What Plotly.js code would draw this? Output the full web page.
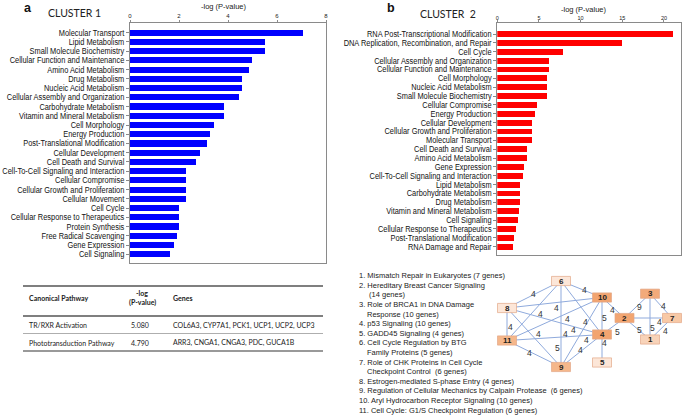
<!DOCTYPE html>
<html><head><meta charset="utf-8">
<script src="https://cdn.plot.ly/plotly-3.0.1.min.js"></script>
<style>html,body{margin:0;padding:0;background:#fff}#chart{width:685px;height:417px}</style>
</head><body><div id="chart"></div>
<script>
// ---------- DATA ----------
const c1Names = ["Molecular Transport","Lipid Metabolism","Small Molecule Biochemistry","Cellular Function and Maintenance","Amino Acid Metabolism","Drug Metabolism","Nucleic Acid Metabolism","Cellular Assembly and Organization","Carbohydrate Metabolism","Vitamin and Mineral Metabolism","Cell Morphology","Energy Production","Post-Translational Modification","Cellular Development","Cell Death and Survival","Cell-To-Cell Signaling and Interaction","Cellular Compromise","Cellular Growth and Proliferation","Cellular Movement","Cell Cycle","Cellular Response to Therapeutics","Protein Synthesis","Free Radical Scavenging","Gene Expression","Cell Signaling"];
const c1Vals = [7.05,5.5,5.5,4.96,4.85,4.57,4.57,4.43,3.82,3.82,3.41,3.26,3.15,2.85,2.70,2.30,2.30,2.30,2.30,2.0,2.0,2.0,1.93,1.78,1.65];

const c2Names = ["RNA Post-Transcriptional Modification","DNA Replication, Recombination, and Repair","Cell Cycle","Cellular Assembly and Organization","Cellular Function and Maintenance","Cell Morphology","Nucleic Acid Metabolism","Small Molecule Biochemistry","Cellular Compromise","Energy Production","Cellular Development","Cellular Growth and Proliferation","Molecular Transport","Cell Death and Survival","Amino Acid Metabolism","Gene Expression","Cell-To-Cell Signaling and Interaction","Lipid Metabolism","Carbohydrate Metabolism","Drug Metabolism","Vitamin and Mineral Metabolism","Cell Signaling","Cellular Response to Therapeutics","Post-Translational Modification","RNA Damage and Repair"];
const c2Vals = [21.04,14.96,7.92,6.24,6.24,6.0,5.92,5.92,4.72,4.56,4.12,4.12,4.12,3.6,3.52,3.2,3.12,2.72,2.72,2.72,2.6,2.52,2.2,2.0,1.92];

const c1Ticks = [0,2,4,6,8];
const c2Ticks = [0,5,10,15,20];

const tablePathways = ["TR/RXR Activation","Phototransduction Pathway"];
const tablePvals = ["5.080","4.790"];
const tableGenes = ["COL6A3, CYP7A1, PCK1, UCP1, UCP2, UCP3","ARR3, CNGA1, CNGA3, PDC, GUCA1B"];

const netPathways = ["Mismatch Repair in Eukaryotes","Hereditary Breast Cancer Signaling<br>","Role of BRCA1 in DNA Damage<br>Response","p53 Signaling","GADD45 Signaling","Cell Cycle Regulation by BTG<br>Family Proteins","Role of CHK Proteins in Cell Cycle<br>Checkpoint Control ","Estrogen-mediated S-phase Entry","Regulation of Cellular Mechanics by Calpain Protease ","Aryl Hydrocarbon Receptor Signaling","Cell Cycle: G1/S Checkpoint Regulation"];
const netGenes = [7,14,10,10,4,5,6,4,6,10,6];

const edgeFrom   = [6,6,8,8,11,10,8,11,6,6,8,10,6,4,11,4,10,4,2,3,2,2,3,1];
const edgeTo     = [8,10,10,4,10,9,11,4,11,4,9,4,9,9,9,5,2,2,3,1,7,1,7,7];
const edgeWeight = [4,4,4,4,4,4,4,4,4,4,4,5,5,4,4,4,4,5,9,5,4,5,4,4];

// ---------- LAYOUT HELPERS (positions / styles) ----------
const W = 685, H = 417;
const PX = x => x / W, PY = y => 1 - y / H;
const arial = "Liberation Sans, Arial, sans-serif";
const calib = "Lato, Open Sans, sans-serif";
const axisGray = "#8a8a8a";

const nodePos = {1:[650,339.5],2:[624.5,318],3:[650,293.7],4:[602,334.5],5:[602,362.5],6:[561,281],7:[672,318],8:[507,308],9:[561,367],10:[602,297.5],11:[507,340.5]};
const nodeFill = {1:"#F8D3B9",2:"#F2A571",3:"#F2AA7A",4:"#F2A470",5:"#FCE6D8",6:"#FCE6D8",7:"#F8C9A6",8:"#FCE6D8",9:"#F5B78B",10:"#F2A470",11:"#F5B78B"};
const edgeLabelPos = [[533.3,294.3],[584.3,290],[556,307.7],[540.7,314.3],[567.3,319],[585,322.3],[510,326.7],[538.3,334.3],[565,334],[573.3,330],[586,340.3],[604.5,317.7],[557.5,348.3],[580.7,350],[529.3,353.3],[604.5,343.3],[612.3,310],[617.3,332.3],[639.3,306.7],[652.3,327.7],[659,321.7],[639,330],[663.3,306],[665,330.7]];

// ---------- TRACES ----------
const traces = [];
traces.push({type:"bar", orientation:"h", x:c1Vals, y:c1Names, xaxis:"x", yaxis:"y",
  marker:{color:"#0000FF"}, width:0.66, hoverinfo:"x+y"});
traces.push({type:"bar", orientation:"h", x:c2Vals, y:c2Names, xaxis:"x2", yaxis:"y2",
  marker:{color:"#FF0000"}, width:0.66, hoverinfo:"x+y"});

const ex = [], ey = [];
for (let i = 0; i < edgeFrom.length; i++) {
  const a = nodePos[edgeFrom[i]], b = nodePos[edgeTo[i]];
  ex.push(a[0], b[0], null); ey.push(a[1], b[1], null);
}
traces.push({type:"scatter", mode:"lines", x:ex, y:ey, xaxis:"x3", yaxis:"y3",
  line:{color:"#8FAADC", width:1}, hoverinfo:"skip", showlegend:false});

// ---------- SHAPES & ANNOTATIONS ----------
const shapes = [], annotations = [];

Object.keys(nodePos).forEach(k => {
  const p = nodePos[k];
  shapes.push({type:"rect", xref:"x3", yref:"y3", x0:p[0]-9.5, x1:p[0]+9.5, y0:p[1]-4.6, y1:p[1]+4.6,
    fillcolor:nodeFill[k], line:{color:"#E2A888", width:0.7}, layer:"above"});
  annotations.push({xref:"x3", yref:"y3", x:p[0], y:p[1], text:"<b>"+k+"</b>", showarrow:false,
    font:{family:arial, size:8, color:"#222"}, xanchor:"center", yanchor:"middle"});
});
edgeWeight.forEach((w, i) => {
  const p = edgeLabelPos[i];
  annotations.push({xref:"x3", yref:"y3", x:p[0], y:p[1], text:String(w), showarrow:false,
    font:{family:arial, size:8.5, color:"#333"}, xanchor:"center", yanchor:"middle"});
});

let line = 0;
netPathways.forEach((name, i) => {
  const full = (i+1) + ". " + name + " (" + netGenes[i] + " genes)";
  const parts = full.split("<br>");
  parts.forEach((t, j) => {
    annotations.push({xref:"paper", yref:"paper", x:PX(j === 0 ? 356.5 : 365), y:PY(275.7 + line*9.6),
      text:t, showarrow:false, xanchor:"left", yanchor:"middle",
      font:{family:arial, size:7.5, color:"#222"}});
    line++;
  });
});

const txt = (x, y, t, font, xa) => annotations.push({xref:"paper", yref:"paper", x:PX(x), y:PY(y), text:t,
  showarrow:false, xanchor:xa||"left", yanchor:"middle", font:font});
txt(22, 8.5, "<b>a</b>", {family:arial, size:12.5, color:"#111"});
txt(385, 8, "<b>b</b>", {family:arial, size:12.5, color:"#111"});
txt(46, 12.5, "CLUSTER 1", {family:calib, size:10.5, color:"#222"});
txt(418, 14, "CLUSTER&nbsp;&nbsp;2", {family:calib, size:10.5, color:"#222"});
txt(224, 6, "-log (P-value)", {family:arial, size:7.5, color:"#222"}, "center");
txt(584, 9.5, "-log (P-value)", {family:arial, size:7.5, color:"#222"}, "center");

const hline = (y, w, c) => shapes.push({type:"line", xref:"paper", yref:"paper", x0:PX(23), x1:PX(323), y0:PY(y), y1:PY(y), line:{color:c, width:w}});
hline(286, 1.6, "#555");
hline(316, 1.3, "#555");
hline(333.5, 0.8, "#999");
hline(351, 1.3, "#777");
const tfont = {family:calib, size:7, color:"#222"};
txt(27, 298, "<b>Canonical Pathway</b>", tfont);
txt(142, 292.5, "<b>-log</b>", tfont, "center");
txt(142, 302.5, "<b>(P-value)</b>", tfont, "center");
txt(171, 298, "<b>Genes</b>", tfont);
const rowY = [325, 342.5];
tablePathways.forEach((p, i) => {
  txt(27, rowY[i], p, tfont);
  txt(129, rowY[i], tablePvals[i], tfont);
  txt(171, rowY[i], tableGenes[i], tfont);
});

// ---------- LAYOUT ----------
const xCommon = {side:"top", showline:true, mirror:true, linecolor:axisGray, linewidth:1, ticks:"outside",
  ticklen:2, tickcolor:axisGray, tickfont:{family:arial, size:6, color:"#222"}, showgrid:false, zeroline:false, fixedrange:true};
const yCommon = {type:"category", categoryorder:"array", tickmode:"linear", tick0:0, dtick:1, showline:true, mirror:true, linecolor:axisGray, linewidth:1,
  ticks:"outside", ticklen:3, tickcolor:axisGray, tickfont:{family:arial, size:8.5, color:"#111"}, showgrid:false, zeroline:false, fixedrange:true};

const layout = {
  width:W, height:H, autosize:false, margin:{l:0,r:0,t:0,b:0},
  paper_bgcolor:"#fff", plot_bgcolor:"rgba(0,0,0,0)", showlegend:false, bargap:0,
  xaxis: Object.assign({}, xCommon, {domain:[PX(130), PX(326)], range:[0,8], tickmode:"array", tickvals:c1Ticks, anchor:"y"}),
  yaxis: Object.assign({}, yCommon, {domain:[PY(263), PY(23)], categoryarray:c1Names, range:[c1Names.length-0.05, -1.05], anchor:"x"}),
  xaxis2: Object.assign({}, xCommon, {domain:[PX(497.3), PX(680.6)], range:[0,22], tickmode:"array", tickvals:c2Ticks, anchor:"y2",
    ticklen:1.5, ticklabelstandoff:-2, tickfont:{family:arial, size:5.5, color:"#222"}}),
  yaxis2: Object.assign({}, yCommon, {domain:[PY(255), PY(22.7)], categoryarray:c2Names, range:[c2Names.length-0.06, -1.28], anchor:"x2"}),
  xaxis3: {domain:[0,1], range:[0,W], visible:false, anchor:"y3", fixedrange:true},
  yaxis3: {domain:[0,1], range:[H,0], visible:false, anchor:"x3", fixedrange:true},
  shapes: shapes, annotations: annotations
};

// condense category labels to mimic the narrow typeface of the original
function condense(gd) {
  const labels = gd.querySelectorAll("g.ytick text, g.y2tick text");
  let ref = null;
  labels.forEach(t => { if (t.textContent === "Cell-To-Cell Signaling and Interaction" && !ref) ref = t; });
  const f = ref ? Math.min(1, 122 / ref.getComputedTextLength()) : 0.8;
  labels.forEach(t => {
    const w = t.getComputedTextLength();
    t.setAttribute("textLength", (w * f).toFixed(2));
    t.setAttribute("lengthAdjust", "spacingAndGlyphs");
  });
}
Plotly.newPlot("chart", traces, layout, {displayModeBar:false, staticPlot:true}).then(condense);
</script></body></html>
